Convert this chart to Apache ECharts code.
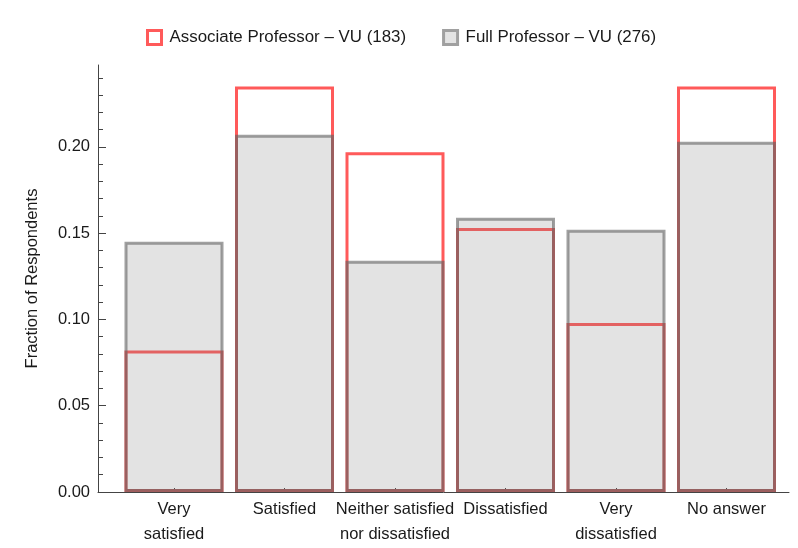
<!DOCTYPE html>
<html>
<head>
<meta charset="utf-8">
<script src="https://cdn.jsdelivr.net/npm/echarts@6/dist/echarts.min.js"></script>
<style>html,body{margin:0;padding:0;background:#fff;}#c{width:798px;height:548px;}</style>
</head>
<body>
<div id="c"></div>
<script>
const categories = ['Very\nsatisfied', 'Satisfied', 'Neither satisfied\nnor dissatisfied', 'Dissatisfied', 'Very\ndissatisfied', 'No answer'];
const positions = [1, 2, 3, 4, 5, 6];
const associateVU = [0.082, 0.235, 0.197, 0.153, 0.098, 0.235];
const fullVU = [0.145, 0.207, 0.134, 0.159, 0.152, 0.203];
const yMajorTicks = [0, 0.05, 0.10, 0.15, 0.20];
const yMinorTicks = [0.01,0.02,0.03,0.04,0.06,0.07,0.08,0.09,0.11,0.12,0.13,0.14,0.16,0.17,0.18,0.19,0.21,0.22,0.23,0.24];
const seriesNames = ['Associate Professor \u2013 VU (183)', 'Full Professor \u2013 VU (276)'];

const font = 'Liberation Sans, Arial, Helvetica, sans-serif';
const chart = echarts.init(document.getElementById('c'), null, {renderer: 'canvas'});
const toPairs = (vals) => vals.map((v, i) => [positions[i], v]);

chart.setOption({
  animation: false,
  backgroundColor: '#fff',
  textStyle: {fontFamily: font},
  legend: {
    left: 141, top: 24,
    itemWidth: 14, itemHeight: 14, itemGap: 36,
    icon: 'rect',
    textStyle: {fontFamily: font, fontSize: 16.9, color: '#1a1a1a', padding: [0, 0, 0, 3]},
    data: [
      {name: seriesNames[0], itemStyle: {color: '#fff', borderColor: '#ff5a5a', borderWidth: 3}},
      {name: seriesNames[1], itemStyle: {color: '#e3e3e3', borderColor: '#a0a0a0', borderWidth: 3}}
    ]
  },
  grid: {left: 98, right: 9, top: 65, bottom: 56, containLabel: false},
  xAxis: {
    type: 'value', min: 0.3122, max: 6.5656,
    splitLine: {show: false},
    axisLine: {show: true, lineStyle: {color: '#444', width: 1}},
    axisTick: {show: true, inside: true, length: 4, customValues: positions, lineStyle: {color: '#444'}},
    axisLabel: {
      customValues: positions, margin: 5, fontSize: 16.5, color: '#1a1a1a', fontFamily: font, lineHeight: 25,
      formatter: (v) => { const i = positions.indexOf(Math.round(v)); return i >= 0 ? categories[i] : ''; }
    }
  },
  yAxis: [
    {
      type: 'value', min: 0, max: 0.2475,
      name: 'Fraction of Respondents', nameLocation: 'middle', nameGap: 57,
      nameTextStyle: {fontSize: 16.5, color: '#1a1a1a', fontFamily: font},
      splitLine: {show: false},
      axisLine: {show: true, lineStyle: {color: '#444', width: 1}},
      axisTick: {show: true, inside: true, length: 8, customValues: yMajorTicks, lineStyle: {color: '#444'}},
      axisLabel: {customValues: yMajorTicks, margin: 8, fontSize: 16.5, color: '#1a1a1a', fontFamily: font,
        formatter: (v) => v.toFixed(2)}
    },
    {
      type: 'value', min: 0, max: 0.2475, position: 'left',
      splitLine: {show: false},
      axisLine: {show: false},
      axisTick: {show: true, inside: true, length: 5, customValues: yMinorTicks, lineStyle: {color: '#444'}},
      axisLabel: {show: false}
    }
  ],
  series: [
    {
      name: seriesNames[0], type: 'bar', data: toPairs(associateVU),
      barWidth: 99, barGap: '-100%',
      itemStyle: {color: 'rgba(255,255,255,0)', borderColor: '#ff5a5a', borderWidth: 3},
      emphasis: {disabled: true}
    },
    {
      name: seriesNames[1], type: 'bar', data: toPairs(fullVU),
      barWidth: 99, barGap: '-100%',
      itemStyle: {color: 'rgba(128,128,128,0.22)', borderColor: 'rgba(96,96,96,0.6)', borderWidth: 3},
      emphasis: {disabled: true}
    }
  ]
});
</script>
</body>
</html>
